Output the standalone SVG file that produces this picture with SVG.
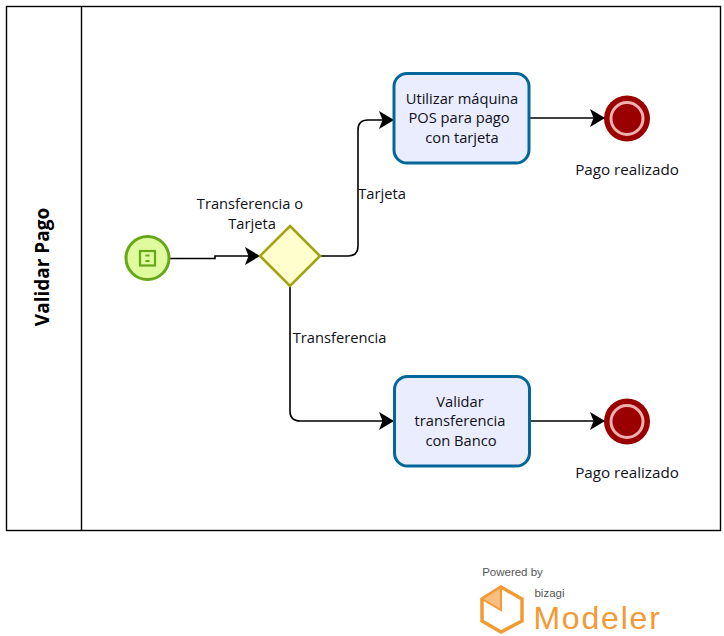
<svg xmlns="http://www.w3.org/2000/svg" width="724" height="636" viewBox="0 0 724 636">
<style>
text{font-family:"Open Sans","Noto Sans","DejaVu Sans",sans-serif;font-size:14.700px;fill:#10101a;text-anchor:middle}
.task{fill:#e9edfd;stroke:#04679a;stroke-width:3}
.conn{fill:none;stroke:#000;stroke-width:1.600;marker-end:url(#arrow)}
.endo{fill:#9a0000;stroke:none}
.endr{fill:#9a0000;stroke:#eeb0b0;stroke-width:3}
.endl{font-size:15.200px}
.logot{font-family:"Liberation Sans",Arial,sans-serif}
</style>
<defs>
<marker id="arrow" markerUnits="userSpaceOnUse" markerWidth="16" markerHeight="18" refX="15" refY="9" orient="auto">
<path d="M0 0L15 9L0 18L3.500 9Z" fill="#000"/>
</marker>
</defs>
<rect width="724" height="636" fill="#fff"/>
<g id="pool">
<rect x="6.500" y="6.500" width="714" height="524" fill="#fff" stroke="#000" stroke-width="1.400"/>
<line x1="81.500" y1="6.500" x2="81.500" y2="530.500" stroke="#000" stroke-width="1.400"/>
<text transform="translate(48.500 267) rotate(-90)" style="font-size:19px;font-weight:700;fill:#000">Validar Pago</text>
</g>
<g id="connectors">
<path class="conn" d="M170 258.500H215V256H260"/>
<path class="conn" d="M320 256H348Q358 256 358 246V130Q358 120 368 120H394"/>
<path class="conn" d="M290 286V411Q290 421 300 421H394"/>
<path class="conn" d="M530 118H605"/>
<path class="conn" d="M530 421H605"/>
<text x="382" y="199">Tarjeta</text>
<text x="339.500" y="343">Transferencia</text>
</g>
<g id="start">
<circle cx="147.500" cy="258" r="21.500" fill="#e0fb9d" stroke="#66a81a" stroke-width="3"/>
<rect x="140" y="251" width="15" height="14.500" fill="none" stroke="#66a81a" stroke-width="2.200"/>
<path d="M145.500 255.500h4M145.500 261h4" stroke="#66a81a" stroke-width="2"/>
</g>
<g id="gateway">
<path d="M290 226L320 256L290 286L260 256Z" fill="#feffcc" stroke="#a3a312" stroke-width="2.600"/>
<text x="250" y="209">Transferencia o</text>
<text x="252" y="229">Tarjeta</text>
</g>
<g id="task1">
<rect class="task" x="394" y="73.500" width="135" height="89.500" rx="13"/>
<text x="462" y="104">Utilizar máquina</text>
<text x="459" y="123">POS para pago</text>
<text x="462" y="143">con tarjeta</text>
</g>
<g id="task2">
<rect class="task" x="394.500" y="376.500" width="135" height="89.500" rx="13"/>
<text x="460" y="407">Validar</text>
<text x="460" y="426">transferencia</text>
<text x="461" y="446">con Banco</text>
</g>
<g id="end1">
<circle class="endo" cx="627" cy="118.500" r="23"/>
<circle class="endr" cx="627" cy="118.500" r="16"/>
<text class="endl" x="627" y="175">Pago realizado</text>
</g>
<g id="end2">
<circle class="endo" cx="627" cy="421.500" r="23"/>
<circle class="endr" cx="627" cy="421.500" r="16"/>
<text class="endl" x="627" y="478">Pago realizado</text>
</g>
<g id="logo">
<text class="logot" x="512.500" y="576" style="font-size:11.500px;fill:#555">Powered by</text>
<path d="M501 587L522 599V621L501 632L482 621V599Z" fill="none" stroke="#f39a33" stroke-width="3.500"/>
<path d="M501 587V610L482 599Z" fill="#f8bd80" stroke="#f39a33" stroke-width="2"/>
<text class="logot" x="549.500" y="597" style="font-size:11.500px;fill:#555">bizagi</text>
<text class="logot" x="597.500" y="629" style="font-size:32px;letter-spacing:1.800px;fill:#f39a33">Modeler</text>
</g>
</svg>
